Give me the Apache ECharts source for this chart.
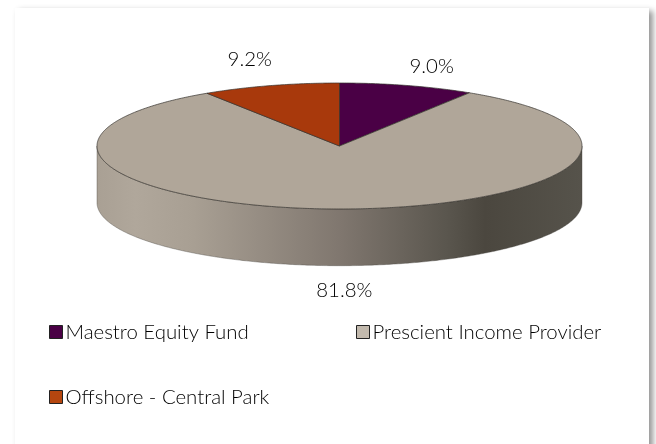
<!DOCTYPE html>
<html>
<head>
<meta charset="utf-8">
<style>html,body{margin:0;padding:0;background:#fff}#c{width:656px;height:444px}</style>
<script src="https://cdn.jsdelivr.net/npm/echarts@6/dist/echarts.min.js"></script>
</head>
<body>
<div id="c"></div>
<script>
const categories = ['Maestro Equity Fund', 'Prescient Income Provider', 'Offshore - Central Park'];
const values = [9.0, 81.8, 9.2];
const colors = ['#4a0045', '#b0a699', '#a8390c'];
const legendColors = ['#4a0045', '#c2b9ad', '#b5460f'];

const FONT = 'Lato';
const DEPTH = 0.9;                 // rim height in y-axis units (unit = pie radius)
const labelSpots = [[0.38, 1.26], [0.02, -2.29], [-0.37, 1.375]]; // label anchors, axis units

const total = values.reduce((a, b) => a + b, 0);
const startAngles = [];
values.reduce((sum, v, i) => { startAngles[i] = sum / total * 2 * Math.PI; return sum + v; }, 0);

function rim(a) { return [Math.sin(a), Math.cos(a)]; }
function arc(a0, a1, dy) {
  const n = Math.max(2, Math.ceil(Math.abs(a1 - a0) / 0.01));
  const pts = [];
  for (let k = 0; k <= n; k++) {
    const p = rim(a0 + (a1 - a0) * k / n);
    pts.push([p[0], p[1] - (dy || 0)]);
  }
  return pts;
}

function makeRender(idx) {
  return function (params, api) {
    const a0 = startAngles[idx];
    const a1 = a0 + values[idx] / total * 2 * Math.PI;
    const toPx = p => api.coord(p);
    const children = [];
    const s0 = Math.max(a0, Math.PI / 2), s1 = Math.min(a1, Math.PI * 1.5);
    if (s1 > s0) {
      const side = arc(s0, s1, 0).concat(arc(s1, s0, DEPTH)).map(toPx);
      children.push({
        type: 'polygon',
        shape: { points: side },
        style: {
          fill: new echarts.graphic.LinearGradient(0, 0, 1, 0, [
            { offset: 0, color: '#a9a094' },
            { offset: 0.08, color: '#b0a79b' },
            { offset: 0.2, color: '#a89f93' },
            { offset: 0.5, color: '#80776f' },
            { offset: 0.72, color: '#5a564e' },
            { offset: 0.8, color: '#4b473f' },
            { offset: 1, color: '#56534b' }
          ]),
          stroke: 'rgba(70,68,62,0.75)', lineWidth: 0.5
        }
      });
    }
    const top = [[0, 0]].concat(arc(a0, a1, 0)).map(toPx);
    children.push({
      type: 'polygon',
      shape: { points: top },
      style: { fill: colors[idx], stroke: '#33302c', lineWidth: 0.7, lineJoin: 'round' }
    });
    const spot = toPx(labelSpots[idx]);
    children.push({
      type: 'text', x: spot[0], y: spot[1], z2: 10,
      style: {
        text: values[idx].toFixed(1) + '%', fill: '#000',
        font: '300 20.4px ' + FONT, align: 'center', verticalAlign: 'middle'
      }
    });
    return { type: 'group', children };
  };
}

const legendSpots = [{ left: 49, top: 322 }, { left: 356, top: 322 }, { left: 49, top: 387 }];

const chart = echarts.init(document.getElementById('c'), null, { renderer: 'canvas' });
chart.setOption({
  animation: false,
  backgroundColor: '#fff',
  graphic: [{
    type: 'rect', z: -10, silent: true,
    shape: { x: 15, y: 8, width: 634, height: 460 },
    style: { fill: '#fff', shadowBlur: 6, shadowColor: 'rgba(0,0,0,0.42)', shadowOffsetX: 4, shadowOffsetY: 3 }
  }],
  grid: { left: 97, top: 83, width: 485, height: 126 },
  xAxis: { type: 'value', min: -1, max: 1, show: false },
  yAxis: { type: 'value', min: -1, max: 1, show: false },
  legend: categories.map((name, i) => ({
    left: legendSpots[i].left, top: legendSpots[i].top,
    orient: 'horizontal', itemWidth: 13, itemHeight: 13, itemGap: 3, padding: 0,
    selectedMode: false,
    textStyle: { fontFamily: FONT, fontWeight: 300, fontSize: 20.4, color: '#000', padding: [0, 0, 0, -2] },
    data: [{ name, icon: 'rect', itemStyle: { color: legendColors[i], borderColor: '#222', borderWidth: 1 } }]
  })),
  series: categories.map((name, i) => ({
    type: 'custom', name, coordinateSystem: 'cartesian2d', clip: false, silent: true,
    itemStyle: { color: legendColors[i] },
    renderItem: makeRender(i),
    data: [[0, 0]]
  }))
});
</script>
</body>
</html>
